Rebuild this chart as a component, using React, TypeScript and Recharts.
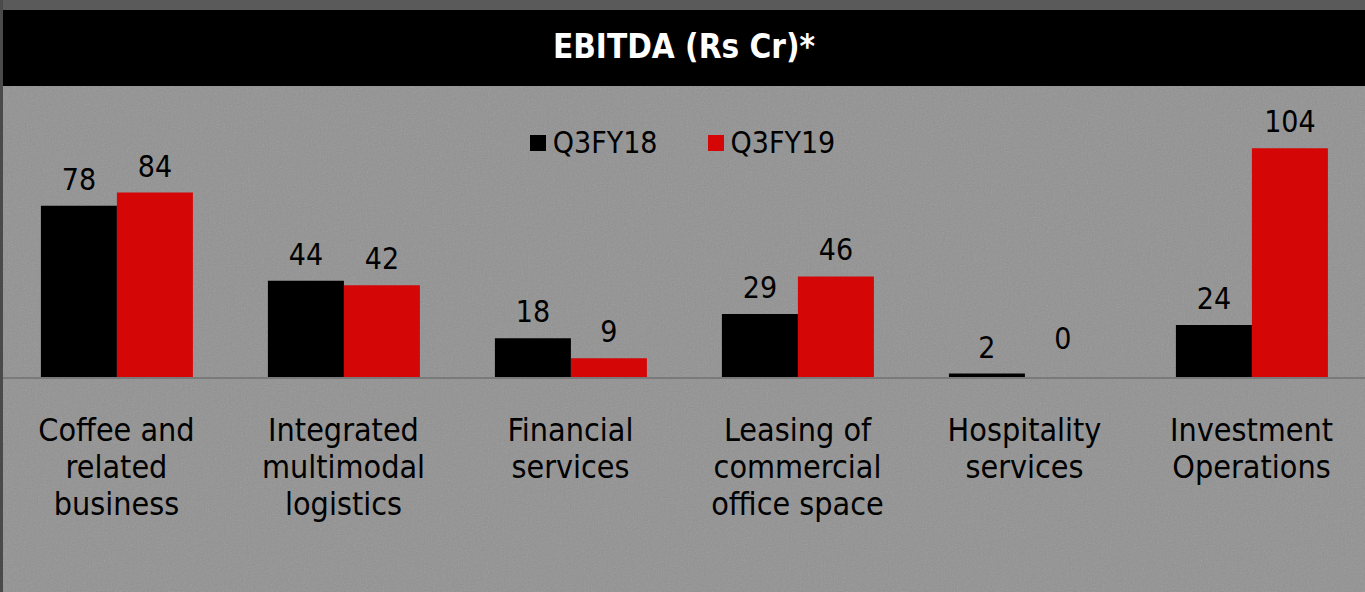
import { Bar, BarChart, LabelList, Rectangle, XAxis, YAxis } from "recharts";

const categories = [
  ["Coffee and", "related", "business"],
  ["Integrated", "multimodal", "logistics"],
  ["Financial", "services"],
  ["Leasing of", "commercial", "office space"],
  ["Hospitality", "services"],
  ["Investment", "Operations"],
];
const q3fy18 = [78, 44, 18, 29, 2, 24];
const q3fy19 = [84, 42, 9, 46, 0, 104];
const seriesNames = ["Q3FY18", "Q3FY19"];
const COLORS = ["#000000", "#d40606"];

const FONT = "'DejaVu Sans Condensed', 'DejaVu Sans', sans-serif";

const data = categories.map((lines, i) => ({
  name: lines.join(" "),
  lines,
  q18: q3fy18[i],
  q19: q3fy19[i],
}));

function CategoryTick({ x, y, payload }: any) {
  const lines = data[payload.index]?.lines ?? [payload.value];
  return (
    <text
      x={x}
      y={y + 55}
      textAnchor="middle"
      fontSize={32}
      fontFamily={FONT}
      fill="#000"
    >
      {lines.map((l: string, i: number) => (
        <tspan key={i} x={x} dy={i === 0 ? 0 : 37}>
          {l}
        </tspan>
      ))}
    </text>
  );
}

// value above each bar; the zero label sits a bit higher, as in the slide
function ValueLabel(props: any) {
  const { x, y, width, value } = props;
  if (x == null || y == null) return null;
  const off = Number(value) === 0 ? 28 : 16;
  return (
    <text
      x={x + width / 2}
      y={y - off}
      textAnchor="middle"
      fontSize={30}
      fontFamily={FONT}
      fill="#000"
    >
      {value}
    </text>
  );
}

// zero bars still get a rect (minPointSize) so the label shows, but nothing is painted
function BarShape(props: any) {
  if (Number(props.value) === 0) return <g />;
  return <Rectangle {...props} />;
}

export default function App() {
  return (
    <div
      style={{
        position: "relative",
        width: 1365,
        height: 592,
        background: "#929292",
        overflow: "hidden",
        fontFamily: FONT,
      }}
    >
      <style>{"body{margin:0}"}</style>
      {/* grain */}
      <svg
        width={1365}
        height={592}
        style={{ position: "absolute", left: 0, top: 0 }}
      >
        <filter id="grain">
          <feTurbulence
            type="fractalNoise"
            baseFrequency="0.7"
            numOctaves={2}
            seed={3}
          />
          <feColorMatrix type="saturate" values="0" />
        </filter>
        <rect width={1365} height={592} filter="url(#grain)" opacity={0.2} />
      </svg>
      <div
        style={{
          position: "absolute",
          left: 0,
          top: 0,
          width: 1365,
          height: 10,
          background: "#5a5a5a",
        }}
      />
      <div
        style={{
          position: "absolute",
          left: 0,
          top: 0,
          width: 3,
          height: 592,
          background: "#4a4a4a",
        }}
      />
      {/* title band */}
      <div
        style={{
          position: "absolute",
          left: 3,
          top: 10,
          width: 1362,
          height: 76,
          background: "#000",
          color: "#fff",
          fontWeight: "bold",
          fontSize: 33,
          lineHeight: "74px",
          textAlign: "center",
        }}
      >
        EBITDA (Rs Cr)*
      </div>
      {/* legend */}
      <div
        style={{
          position: "absolute",
          top: 126,
          left: 0,
          width: 1365,
          display: "flex",
          justifyContent: "center",
          gap: 50,
          fontSize: 30,
          lineHeight: "34px",
          color: "#000",
        }}
      >
        {seriesNames.map((n, i) => (
          <div key={n} style={{ display: "flex", alignItems: "center" }}>
            <span
              style={{
                display: "inline-block",
                width: 16,
                height: 16,
                background: COLORS[i],
                marginRight: 7,
              }}
            />
            {n}
          </div>
        ))}
      </div>
      <div style={{ position: "absolute", left: 3, top: 86 }}>
        <BarChart
          width={1362}
          height={506}
          data={data}
          margin={{ top: 27, right: 0, bottom: 0, left: 0 }}
          barCategoryGap="16.7%"
          barGap={0}
        >
          <YAxis hide domain={[0, 120]} />
          <XAxis
            dataKey="name"
            height={214}
            tickLine={false}
            axisLine={{ stroke: "#7a7a7a", strokeWidth: 2 }}
            tick={<CategoryTick />}
            interval={0}
          />
          <Bar
            dataKey="q18"
            fill={COLORS[0]}
            isAnimationActive={false}
            minPointSize={1}
            shape={<BarShape />}
          >
            <LabelList dataKey="q18" content={<ValueLabel />} />
          </Bar>
          <Bar
            dataKey="q19"
            fill={COLORS[1]}
            isAnimationActive={false}
            minPointSize={1}
            shape={<BarShape />}
          >
            <LabelList dataKey="q19" content={<ValueLabel />} />
          </Bar>
        </BarChart>
      </div>
    </div>
  );
}
